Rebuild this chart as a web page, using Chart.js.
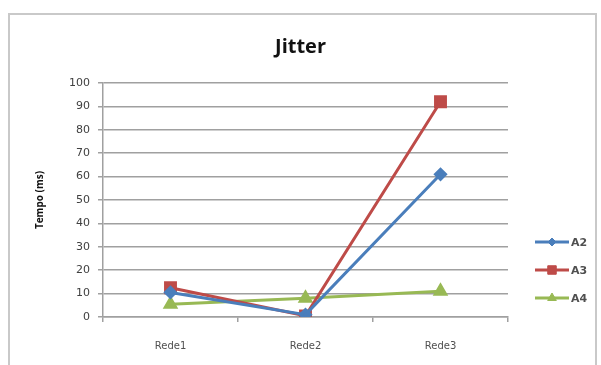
<!DOCTYPE html>
<html>
<head>
<meta charset="utf-8">
<script src="https://cdn.jsdelivr.net/npm/chart.js@4"></script>
<style>
  html, body { margin: 0; padding: 0; background: #fff; }
  #wrap { position: relative; width: 601px; height: 365px; overflow: hidden; }
  #moldura { position: absolute; left: 8px; top: 13px; width: 589px; height: 360px;
             border: 2px solid #c9c9c9; box-sizing: border-box; background: #fff; }
  #grafico { position: absolute; left: 0; top: 0; }
</style>
</head>
<body>
<div id="wrap">
  <div id="moldura"></div>
  <canvas id="grafico" width="601" height="365"></canvas>
</div>
<script>
// Jitter por rede (ms)
var redes = ['Rede1', 'Rede2', 'Rede3'];
var serieA2 = [10.5, 1, 61];
var serieA3 = [12.5, 0.5, 92];
var serieA4 = [5.5, 8, 11];

var corA2 = '#4a7ebb';
var corA3 = '#be4b48';
var corA4 = '#98b954';

// legenda desenhada à direita: linha com o marcador no meio
var legendaLateral = {
    id: 'legendaLateral',
    afterDraw: function (chart) {
        var ctx = chart.ctx;
        var x0 = 535, x1 = 569, y = 242, passo = 28;
        chart.data.datasets.forEach(function (ds, i) {
            var yy = y + i * passo;
            ctx.save();
            ctx.strokeStyle = ds.borderColor;
            ctx.fillStyle = ds.borderColor;
            ctx.lineWidth = 3;
            ctx.beginPath();
            ctx.moveTo(x0, yy);
            ctx.lineTo(x1, yy);
            ctx.stroke();
            ctx.lineWidth = 1;
            Chart.helpers.drawPoint(ctx, {
                pointStyle: ds.pointStyle,
                radius: ds.pointRadius - 1,
                rotation: 0,
                borderWidth: 1
            }, (x0 + x1) / 2, yy);
            ctx.fillStyle = '#505050';
            ctx.font = 'bold 11px "DejaVu Sans"';
            ctx.textBaseline = 'middle';
            ctx.fillText(ds.label, x1 + 2, yy + 1);
            ctx.restore();
        });
    }
};

function serie(nome, dados, cor, estilo, raio) {
    return {
        label: nome,
        data: dados,
        borderColor: cor,
        backgroundColor: cor,
        pointBackgroundColor: cor,
        pointBorderColor: cor,
        pointStyle: estilo,
        pointRadius: raio,
        borderWidth: 3,
        tension: 0
    };
}

var ctx = document.getElementById('grafico').getContext('2d');
new Chart(ctx, {
    type: 'line',
    data: {
        labels: redes,
        datasets: [
            serie('A2', serieA2, corA2, 'rectRot', 5),
            serie('A3', serieA3, corA3, 'rect', 7),
            serie('A4', serieA4, corA4, 'triangle', 6)
        ]
    },
    options: {
        responsive: false,
        animation: false,
        layout: { padding: 0 },
        plugins: {
            legend: { display: false },
            tooltip: { enabled: false },
            title: {
                display: true,
                text: 'Jitter',
                color: '#111',
                font: { family: '"Open Sans"', size: 20, weight: 'bold' },
                padding: { top: 35, bottom: 24 }
            }
        },
        scales: {
            x: {
                offset: true,
                grid: {
                    offset: true,
                    drawOnChartArea: false,
                    tickLength: 5,
                    color: '#a0a0a0',
                    lineWidth: 1.5
                },
                border: { color: '#a0a0a0', width: 1.5 },
                ticks: {
                    color: '#505050',
                    padding: 18,
                    font: { family: '"DejaVu Sans"', size: 10 }
                },
                afterFit: function (escala) { escala.height = 48; }
            },
            y: {
                min: 0,
                max: 100,
                ticks: {
                    stepSize: 10,
                    color: '#404040',
                    padding: 8,
                    font: { family: '"DejaVu Sans"', size: 11 }
                },
                grid: { color: '#a0a0a0', lineWidth: 1.5, tickLength: 5 },
                border: { color: '#a0a0a0', width: 1.5 },
                title: {
                    display: true,
                    text: 'Tempo (ms)',
                    color: '#111',
                    font: { family: '"Open Sans"', size: 10, weight: 'bold' },
                    padding: { top: 34, bottom: 0 }
                },
                afterFit: function (escala) { escala.width = 103; }
            },
            // eixo vazio à direita que reserva espaço para a legenda
            reserva: {
                position: 'right',
                display: true,
                min: 0,
                max: 100,
                ticks: { display: false },
                grid: { display: false },
                border: { display: false },
                afterFit: function (escala) { escala.width = 93; }
            }
        }
    },
    plugins: [legendaLateral]
});
</script>
</body>
</html>
